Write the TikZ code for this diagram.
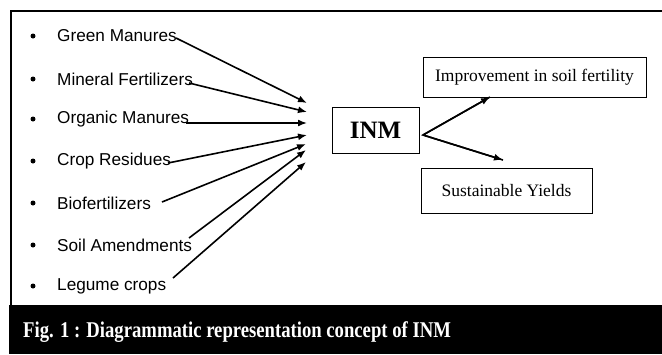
\documentclass[tikz,border=0pt]{standalone}
\usepackage{fontspec}
\setmainfont{Liberation Serif}
\newfontfamily\arialf{Liberation Sans}
\usetikzlibrary{arrows.meta}
\begin{document}
\begin{tikzpicture}[x=1pt,y=-1pt,
  item/.style={anchor=west,inner sep=0pt,font=\arialf\fontsize{17.2}{19}\selectfont},
  bul/.style={circle,fill=black,inner sep=0pt,minimum size=5pt},
  box/.style={draw,line width=0.8pt,inner sep=0pt},
  conn/.style={line width=1.6pt,-{Latex[length=9pt,width=7pt]}}]
\useasboundingbox (0,0) rectangle (662,354);
% frame
\draw[line width=2pt] (662,11) -- (11,11) -- (11,306);
\fill[black] (9,305) rectangle (662,354);
\node[anchor=base west,text=white,inner sep=0pt,font=\bfseries\fontsize{22.5}{26}\selectfont] (cap) at (23,337) {\scalebox{0.83}[1]{Fig. 1 : Diagrammatic representation concept of INM}};
% list
\foreach \n/\y/\t in {a/36/Green Manures,b/79/Mineral Fertilizers,c/119/Organic Manures,d/161/Crop Residues,e/203/Biofertilizers,f/245/Soil Amendments,g/286/Legume crops}{
  \node[bul] (b\n) at (33,\y) {};
  \node[item] (\n) at (57,\y) {\t};
}
% start and tip coordinates
\coordinate (sa) at (176,38);
\coordinate (sb) at (189,83);
\coordinate (sc) at (186,123);
\coordinate (sd) at (168,163);
\coordinate (se) at (162,202);
\coordinate (sf) at (189,238);
\coordinate (sg) at (173,278);
\coordinate (ta) at (307,103);
\coordinate (tb) at (307,112);
\coordinate (tc) at (307,123);
\coordinate (td) at (307,135);
\coordinate (te) at (306,144);
\coordinate (tf) at (306,150);
\coordinate (tg) at (306,162);
\foreach \n in {a,b,c,d,e,f,g}{\draw[conn] (s\n) -- (t\n);}
% INM
\node[box,minimum width=87pt,minimum height=46pt,font=\bfseries\fontsize{25}{28}\selectfont] (inm) at (375.5,130) {INM};
\node[box,minimum width=223pt,minimum height=40pt,font=\fontsize{17.5}{20}\selectfont] (imp) at (534.5,77) {Improvement in soil fertility};
\node[box,minimum width=171pt,minimum height=45pt,font=\fontsize{17.5}{20}\selectfont] (sus) at (506.5,190.5) {Sustainable Yields};
\coordinate (o) at (423,135);
\coordinate (ti) at (490,97);
\coordinate (ts) at (503,160);
\draw[line width=1.6pt] (ti) -- (o) -- (ts);
\draw[conn] (o) -- (ti);
\draw[conn] (o) -- (ts);
\end{tikzpicture}
\end{document}
